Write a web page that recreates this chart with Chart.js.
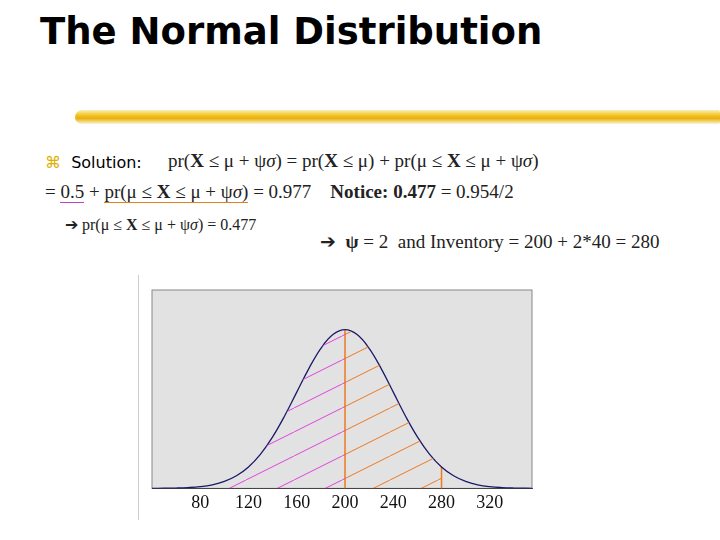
<!DOCTYPE html>
<html><head><meta charset="utf-8">
<script src="https://cdn.jsdelivr.net/npm/chart.js@4"></script>
<style>
body{margin:0;width:720px;height:540px;background:#fff;position:relative;overflow:hidden;font-family:"Liberation Serif",serif}
.a{position:absolute;white-space:nowrap}
#title{left:40px;top:10px;font:bold 37px "DejaVu Sans",sans-serif;letter-spacing:0px}
#brush{left:75px;top:110px;width:645px;height:14px;background:linear-gradient(180deg,rgba(240,200,40,0.3),#f2c21a 40%,#e8b010 60%,rgba(240,200,40,0.2));border-radius:8px 2px 2px 8px}
.s{font-size:19px;color:#222}
b{font-weight:bold}
</style></head><body>
<div class="a" id="title">The Normal Distribution</div>
<div class="a" id="brush"></div>
<div class="a" style="left:45px;top:153px;font:16px 'DejaVu Sans',sans-serif"><span style="color:#e0b000">⌘</span>&nbsp; Solution:</div>
<div class="a s" style="left:168px;top:150px">pr(<b>X</b> ≤ μ + ψ<i>σ</i>) = pr(<b>X</b> ≤ μ) + pr(μ ≤ <b>X</b> ≤ μ + ψ<i>σ</i>)</div>
<div class="a s" style="left:45px;top:181px">= <span style="border-bottom:1.5px solid #c040c0">0.5</span> + <span style="border-bottom:1.5px solid #e08020">pr(μ ≤ <b>X</b> ≤ μ + ψ<i>σ</i>)</span> = 0.977 &nbsp;&nbsp; <b>Notice:</b> <b>0.477</b> = 0.954/2</div>
<div class="a s" style="left:65px;top:215px;font-size:16px">➔ pr(μ ≤ <b>X</b> ≤ μ + ψ<i>σ</i>) = 0.477</div>
<div class="a s" style="left:320px;top:230px">➔ &nbsp;<b>ψ</b> = 2 &nbsp;and Inventory = 200 + 2*40 = 280</div>
<div class="a" style="left:138px;top:275px;width:1px;height:245px;background:#ccc"></div>
<div class="a" style="left:150px;top:288px;width:385px;height:230px"><canvas id="c"></canvas></div>
<script>
const xs=[40,50,60,70,80,90,100,110,120,130,140,150,160,170,180,190,200,210,220,230,240,250,260,270,280,290,300,310,320,330,340,350,360];
const ys=[0.0003,0.0009,0.0022,0.0051,0.0111,0.0228,0.0439,0.0796,0.1353,0.2163,0.3247,0.4578,0.6065,0.7548,0.8825,0.969,1,0.969,0.8825,0.7548,0.6065,0.4578,0.3247,0.2163,0.1353,0.0796,0.0439,0.0228,0.0111,0.0051,0.0022,0.0009,0.0003];
const tickValues=[80,120,160,200,240,280,320];
const leftFrom=100, mean=200, inv=280;
function pat(color){const c=document.createElement('canvas');c.width=48;c.height=24;const g=c.getContext('2d');g.strokeStyle=color;g.lineWidth=1;g.beginPath();g.moveTo(0,24);g.lineTo(48,0);g.stroke();return g.createPattern(c,'repeat');}
const pts=xs.map((x,i)=>({x,y:ys[i]}));
const left=pts.filter(p=>p.x>=leftFrom&&p.x<=mean);
const right=pts.filter(p=>p.x>=mean&&p.x<=inv);
const peak=ys[xs.indexOf(mean)], yInv=ys[xs.indexOf(inv)];
const bg={id:'bg',beforeDraw(ch){const a=ch.chartArea,c=ch.ctx;c.save();c.fillStyle='#e2e2e2';c.fillRect(a.left,a.top,a.right-a.left,a.bottom-a.top);c.strokeStyle='#888';c.lineWidth=1;c.strokeRect(a.left,a.top,a.right-a.left,a.bottom-a.top);c.restore();}};
new Chart(document.getElementById('c'),{type:'line',data:{datasets:[
{data:left,fill:'origin',backgroundColor:pat('#e040e0'),borderWidth:0,pointRadius:0,tension:0.4},
{data:right,fill:'origin',backgroundColor:pat('#f07820'),borderWidth:0,pointRadius:0,tension:0.4},
{data:pts,borderColor:'#1a1a6a',borderWidth:1.3,pointRadius:0,tension:0.4,fill:false},
{data:[{x:mean,y:0},{x:mean,y:peak}],borderColor:'#f07820',borderWidth:1.5,pointRadius:0},
{data:[{x:inv,y:0},{x:inv,y:yInv}],borderColor:'#f07820',borderWidth:1.5,pointRadius:0}
]},plugins:[bg],options:{responsive:true,maintainAspectRatio:false,animation:false,
plugins:{legend:{display:false},tooltip:{enabled:false}},layout:{padding:{left:2,right:3,top:2}},
scales:{x:{type:'linear',min:40,max:355,afterBuildTicks:s=>{s.ticks=tickValues.map(v=>({value:v}))},grid:{display:false,drawTicks:false},border:{color:'#444'},ticks:{color:'#111',font:{family:'Liberation Serif',size:18},padding:4}},
y:{display:false,min:0,max:1.25}}}});
</script></body></html>
